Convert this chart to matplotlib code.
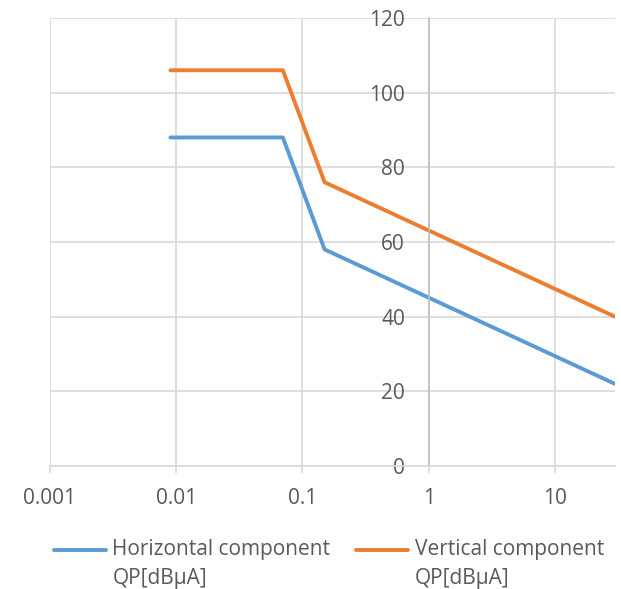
import matplotlib
matplotlib.use('Agg')
import numpy as np
import matplotlib.pyplot as plt
from matplotlib.ticker import FixedLocator, NullLocator
from matplotlib.legend_handler import HandlerLine2D

# frequency [MHz] and limits
freq = [0.009, 0.07, 0.15, 30]
horizontal = [88, 88, 58, 22]
vertical = [106, 106, 76, 40]
xticks = [0.001, 0.01, 0.1, 1, 10]
xticklabels = ['0.001', '0.01', '0.1', '1', '10']
yticks = [0, 20, 40, 60, 80, 100, 120]

plt.rc('font', family=['Open Sans', 'DejaVu Sans'])
FS = 15


# legend line sits on the first text line, not centred on both
class TopLineHandler(HandlerLine2D):
    def create_artists(self, legend, orig_handle, xdescent, ydescent,
                       width, height, fontsize, trans):
        arts = super().create_artists(legend, orig_handle, xdescent, ydescent,
                                      width, height, fontsize, trans)
        for a in arts:
            a.set_ydata(np.asarray(a.get_ydata()) + 0.7 * fontsize)
        return arts


W, H = 621, 589
fig = plt.figure(figsize=(W / 100, H / 100), dpi=100)
ax = fig.add_axes([50 / W, (H - 466) / H, (615 - 50) / W, (466 - 18) / H])

ax.plot(freq, horizontal, color='#5b9bd5', lw=2.8, solid_capstyle='round',
        label='Horizontal component\nQP[dBµA]')
ax.plot(freq, vertical, color='#ed7d31', lw=2.8, solid_capstyle='round',
        label='Vertical component\nQP[dBµA]')

ax.set_xscale('log')
ax.set_xlim(0.001, 30)
ax.set_ylim(0, 120)
ax.xaxis.set_major_locator(FixedLocator(xticks))
ax.set_xticklabels(xticklabels)
ax.xaxis.set_minor_locator(NullLocator())
ax.set_yticks(yticks)

ax.grid(True, color='#d9d9d9', lw=1.2)
ax.set_axisbelow(True)

for s in ['top', 'right']:
    ax.spines[s].set_visible(False)
ax.spines['left'].set_position(('data', 1))
ax.spines['left'].set_color('#bfbfbf')
ax.spines['left'].set_linewidth(1.2)
ax.spines['bottom'].set_color('#d9d9d9')
ax.spines['bottom'].set_linewidth(1.2)

ax.tick_params(axis='x', colors='#d9d9d9', labelcolor='#595959', length=5,
               width=1.2, pad=11, labelsize=FS)
ax.tick_params(axis='y', length=0, pad=17, labelcolor='#595959', labelsize=FS)

leg = fig.legend(loc='center', bbox_to_anchor=(329 / W, (H - 564) / H), ncol=2,
                 frameon=False, fontsize=FS, handlelength=2.5,
                 handletextpad=0.3, columnspacing=1.25, labelcolor='#595959',
                 handler_map={plt.Line2D: TopLineHandler()})
for t in leg.get_texts():
    t.set_linespacing(1.45)

fig.savefig('out.png', dpi=100)
